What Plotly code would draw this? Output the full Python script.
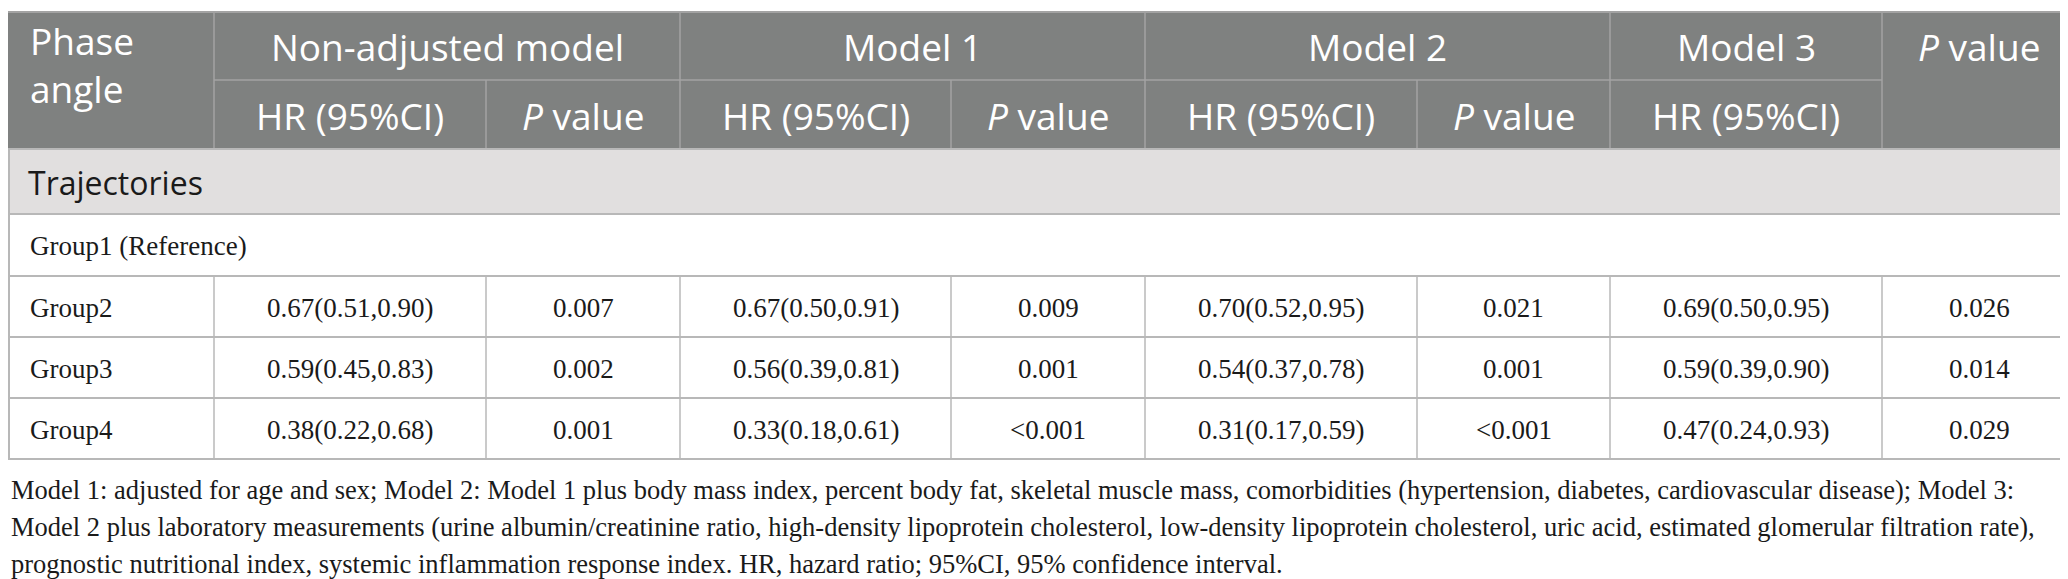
import plotly.graph_objects as go

# table content
models = ["Non-adjusted model", "Model 1", "Model 2", "Model 3"]
sub_headers = ["HR (95%CI)", "<i>P</i> value", "HR (95%CI)", "<i>P</i> value",
               "HR (95%CI)", "<i>P</i> value", "HR (95%CI)"]
groups = ["Group2", "Group3", "Group4"]
hr_nonadj = ["0.67(0.51,0.90)", "0.59(0.45,0.83)", "0.38(0.22,0.68)"]
p_nonadj = ["0.007", "0.002", "0.001"]
hr_m1 = ["0.67(0.50,0.91)", "0.56(0.39,0.81)", "0.33(0.18,0.61)"]
p_m1 = ["0.009", "0.001", "<0.001"]
hr_m2 = ["0.70(0.52,0.95)", "0.54(0.37,0.78)", "0.31(0.17,0.59)"]
p_m2 = ["0.021", "0.001", "<0.001"]
hr_m3 = ["0.69(0.50,0.95)", "0.59(0.39,0.90)", "0.47(0.24,0.93)"]
p_m3 = ["0.026", "0.014", "0.029"]
footnote = [
    "Model 1: adjusted for age and sex; Model 2: Model 1 plus body mass index, percent body fat, skeletal muscle mass, comorbidities (hypertension, diabetes, cardiovascular disease); Model 3:",
    "Model 2 plus laboratory measurements (urine albumin/creatinine ratio, high-density lipoprotein cholesterol, low-density lipoprotein cholesterol, uric acid, estimated glomerular filtration rate),",
    "prognostic nutritional index, systemic inflammation response index. HR, hazard ratio; 95%CI, 95% confidence interval.",
]

# layout in pixels
W, H = 2068, 579
col_edges = [0, 206, 478, 672, 943, 1137, 1409, 1602, 1874, 2068]
row_edges = [4, 72, 141, 206, 268, 329, 390, 451]
foot_y = [482, 519, 556]

HEAD_BG = "#7f8180"
HEAD_LINE = "#a3a3a3"
SECT_BG = "#e1dfdf"
GRID = "#b8b8b8"
SANS = "Open Sans"
SERIF = "Liberation Serif"
HEAD_SIZE = 37

fig = go.Figure()
shapes = []
ann = []


def rect(x0, y0, x1, y1, fill, line=None, lw=0):
    shapes.append(dict(type="rect", xref="x", yref="y", x0=x0, x1=x1, y0=y0, y1=y1,
                       fillcolor=fill, line=dict(color=line or fill, width=lw), layer="below"))


def seg(x0, y0, x1, y1, color, lw=1.5):
    shapes.append(dict(type="line", xref="x", yref="y", x0=x0, x1=x1, y0=y0, y1=y1,
                       line=dict(color=color, width=lw)))


def text(x, y, s, font, size, color, anchor="center"):
    ann.append(dict(x=x, y=y, xref="x", yref="y", text=s, showarrow=False,
                    xanchor=anchor, yanchor="middle", align=anchor if anchor != "center" else "center",
                    font=dict(family=font, size=size, color=color)))


# header block
rect(0, row_edges[0], W, row_edges[2], HEAD_BG)
seg(0, row_edges[0], W, row_edges[0], HEAD_LINE, 2)
seg(col_edges[1], row_edges[1], col_edges[8], row_edges[1], HEAD_LINE)
for i in [1, 3, 5, 7, 8]:
    seg(col_edges[i], row_edges[0], col_edges[i], row_edges[2], HEAD_LINE)
for i in [2, 4, 6]:
    seg(col_edges[i], row_edges[1], col_edges[i], row_edges[2], HEAD_LINE)

text(20, 56, "Phase<br>angle", SANS, HEAD_SIZE, "white", "left")
model_spans = [(1, 3), (3, 5), (5, 7), (7, 8)]
for name, (a, b) in zip(models, model_spans):
    text((col_edges[a] + col_edges[b]) / 2, 38, name, SANS, HEAD_SIZE, "white")
text((col_edges[8] + col_edges[9]) / 2, 38, "<i>P</i> value", SANS, HEAD_SIZE, "white")
hy = (row_edges[1] + row_edges[2]) / 2 + 1
for j, s in enumerate(sub_headers):
    text((col_edges[j + 1] + col_edges[j + 2]) / 2, hy, s, SANS, HEAD_SIZE, "white")

# section row
rect(0, row_edges[2], W, row_edges[3], SECT_BG)
text(18, (row_edges[2] + row_edges[3]) / 2 + 1, "Trajectories", SANS, 32, "#1a1a1a", "left")

# body grid
for r in range(2, len(row_edges)):
    seg(0, row_edges[r], W, row_edges[r], GRID, 2)
seg(1, row_edges[2], 1, row_edges[-1], GRID, 2)
seg(W - 1, row_edges[2], W - 1, row_edges[-1], GRID, 2)
for i in range(1, 9):
    seg(col_edges[i], row_edges[4], col_edges[i], row_edges[-1], GRID)

text(20, (row_edges[3] + row_edges[4]) / 2 + 1, "Group1 (Reference)", SERIF, 27, "#1a1a1a", "left")
columns = [hr_nonadj, p_nonadj, hr_m1, p_m1, hr_m2, p_m2, hr_m3, p_m3]
for r, g in enumerate(groups):
    yc = (row_edges[4 + r] + row_edges[5 + r]) / 2 + 1
    text(20, yc, g, SERIF, 27, "#1a1a1a", "left")
    for c, vals in enumerate(columns):
        text((col_edges[c + 1] + col_edges[c + 2]) / 2, yc, vals[r], SERIF, 27, "#1a1a1a")

for y, line in zip(foot_y, footnote):
    text(1, y, line, SERIF, 26.5, "#1a1a1a", "left")

fig.update_layout(
    width=W, height=H,
    margin=dict(l=0, r=0, t=0, b=0),
    paper_bgcolor="white", plot_bgcolor="white",
    xaxis=dict(range=[0, W], visible=False, fixedrange=True),
    yaxis=dict(range=[H, 0], visible=False, fixedrange=True),
    shapes=shapes, annotations=ann, showlegend=False,
)
fig.write_html("out.html")
